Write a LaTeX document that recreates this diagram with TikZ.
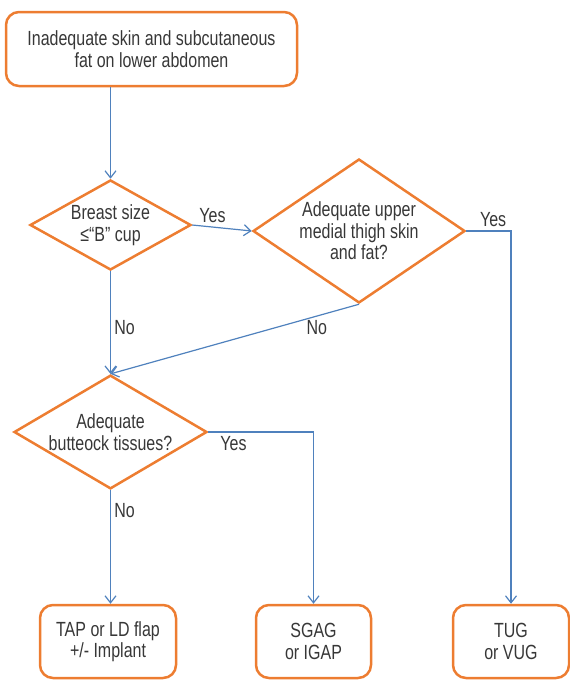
\documentclass[tikz,border=0pt]{standalone}
\usepackage{fontspec}
\setmainfont{Liberation Sans}[FakeStretch=0.78]
\usetikzlibrary{arrows.meta,shapes.geometric}
\definecolor{boxorange}{RGB}{237,125,49}
\definecolor{lineblue}{RGB}{79,129,189}
\definecolor{txtgray}{RGB}{55,55,55}

\begin{document}
\begin{tikzpicture}[x=1pt,y=-1pt,
        every node/.style={font=\fontsize{20.5}{21.5}\selectfont, text=txtgray, align=center},
        box/.style={draw=boxorange, line width=2.5pt, rounded corners=13pt, inner sep=0pt, minimum height=73pt},
        decision/.style={shape=diamond, draw=boxorange, line width=2.5pt, inner sep=0pt, aspect=1.6},
        arr/.style={draw=lineblue, line width=1.2pt, -{Straight Barb[length=7pt,width=11pt]}}]
        \useasboundingbox (0,0) rectangle (570,680);

        \node[box, minimum width=291pt, minimum height=74pt] (top) at (151.5,49) {Inadequate skin and subcutaneous\\fat on lower abdomen};
        \node[decision, minimum width=161pt, minimum height=90pt] (breast) at (110.5,225) {Breast size\\≤“B” cup};
        \node[decision, minimum width=212pt, minimum height=144pt] (thigh) at (359,231) {Adequate upper\\medial thigh skin\\and fat?};
        \node[decision, minimum width=193pt, minimum height=98pt] (buttock) at (110.5,432) {Adequate\\butteock tissues?};
        \node[box, minimum width=136pt] (tap) at (108,641.5) {TAP or LD flap\\+/- Implant};
        \node[box, minimum width=115pt] (sgag) at (313.5,641.5) {SGAG\\or IGAP};
        \node[box, minimum width=116pt] (tug) at (511,641.5) {TUG\\or VUG};

        \draw[arr] (top.south -| breast.north) -- (breast.north);
        \draw[arr] (breast.east) -- node[above, pos=0.34] {Yes} (thigh.west);
        \draw[arr] (thigh.east) -| node[above, pos=0.3] {Yes} (tug.north);
        \draw[arr] (breast.south) -- node[right, pos=0.55] {No} (buttock.north);
        \draw[arr] (thigh.south) -- node[below, pos=0.17] {No} (buttock.north);
        \draw[arr] (buttock.east) -| node[below, pos=0.12] {Yes} (sgag.north);
        \draw[arr] (buttock.south) -- node[right, pos=0.18] {No} (buttock.south |- tap.north);
    \end{tikzpicture}
\end{document}
